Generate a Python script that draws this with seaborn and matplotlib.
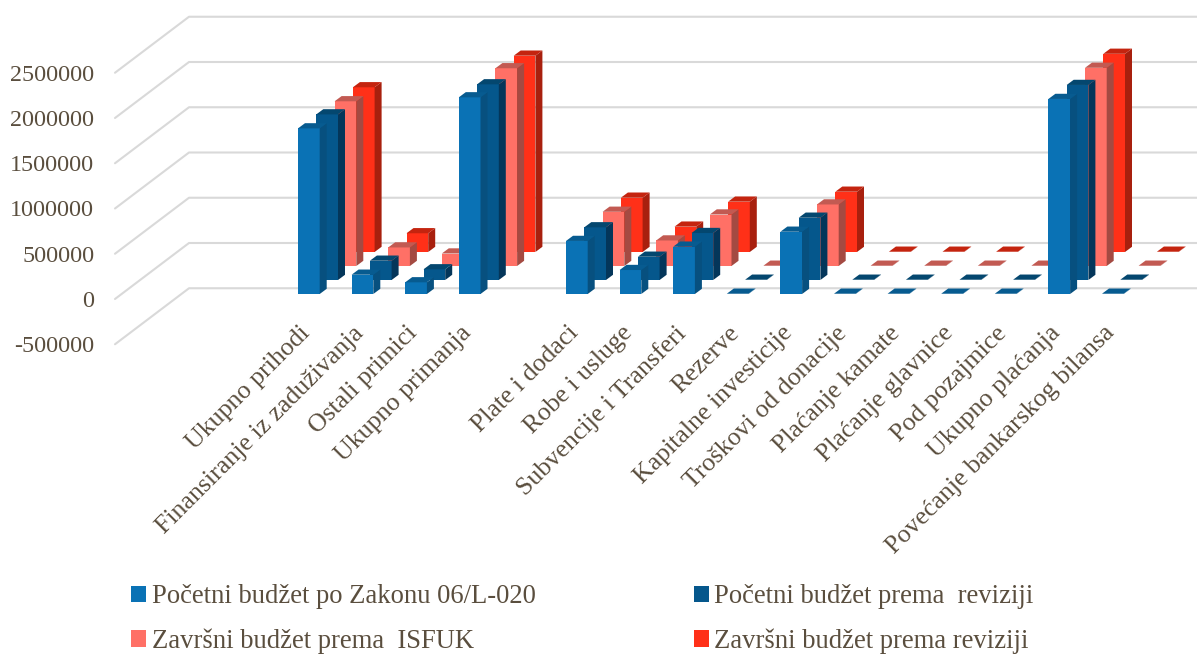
import matplotlib
matplotlib.use("Agg")
import matplotlib.pyplot as plt
import matplotlib.transforms as mtransforms
from matplotlib.patches import Patch, Polygon
from matplotlib.lines import Line2D
import seaborn as sns

categories = [
    "Ukupno prihodi", "Finansiranje iz zaduživanja", "Ostali primici", "Ukupno primanja", " ",
    "Plate i dodaci", "Robe i usluge", "Subvencije i Transferi", "Rezerve", "Kapitalne investicije",
    "Troškovi od donacije", "Plaćanje kamate", "Plaćanje glavnice", "Pod pozajmice",
    "Ukupno plaćanja", "Povećanje bankarskog bilansa",
]
pocetni_zakon = [1830000, 213000, 129000, 2173000, None, 586000, 265000, 523000, 3000, 688000, 3000, 3000, 3000, 3000, 2155000, 3000]
pocetni_revizija = [1830000, 213000, 118000, 2162000, None, 582000, 257000, 519000, 3000, 688000, 3000, 3000, 3000, 3000, 2155000, 3000]
zavrsni_isfuk = [1820000, 205000, 138000, 2185000, None, 599000, 282000, 569000, 3000, 680000, 3000, 3000, 3000, 3000, 2190000, 3000]
zavrsni_revizija = [1820000, 207000, 130000, 2169000, None, 600000, 280000, 556000, 3000, 666000, 3000, 3000, 3000, 3000, 2190000, 3000]

series_names = ["Početni budžet po Zakonu 06/L-020", "Početni budžet prema  reviziji",
                "Završni budžet prema  ISFUK", "Završni budžet prema reviziji"]
series_values = [pocetni_zakon, pocetni_revizija, zavrsni_isfuk, zavrsni_revizija]
front_colors = ["#0A72B5", "#05578C", "#FF7066", "#FF3018"]
side_colors = ["#07507F", "#04365A", "#A44A42", "#A8200E"]
top_colors = ["#075B90", "#04476F", "#C25A52", "#C4240F"]
value_ticks = [-500000, 0, 500000, 1000000, 1500000, 2000000, 2500000]

TEXT = "#5A4E3E"
W, H = 1197, 654
# oblique projection, in pixels
AX_LEFT, AX_BOTTOM_Y, AX_TOP_Y = 115, 344.25, 72.75
SLOT, FIRST_CENTER, BAR_W = 53.6, 308.85, 21.7
STEP_X, STEP_Y, BASE_Y = 18.3, 14.0, 5.0
BAR_DX, BAR_DY = 7.0, 5.2
WALL_DX, WALL_DY = 74.0, 56.0

sns.set_theme(style="white")
plt.rcParams["font.family"] = ["Liberation Serif", "DejaVu Serif"]

fig = plt.figure(figsize=(W / 100, H / 100), dpi=100, facecolor="white")
ax = fig.add_axes([AX_LEFT / W, 1 - AX_BOTTOM_Y / H, (W - AX_LEFT) / W, (AX_BOTTOM_Y - AX_TOP_Y) / H])
ax.set_facecolor("none")

x_limits = ((AX_LEFT - FIRST_CENTER) / SLOT, (W - FIRST_CENTER) / SLOT)
y_limits = (-500000, 2500000)


def freeze_limits():
    ax.set_xlim(*x_limits)
    ax.set_ylim(*y_limits)


freeze_limits()

# Back-to-front so the nearer series cover the farther ones
for idx in range(3, -1, -1):
    start = len(ax.patches)
    sns.barplot(x=categories, y=series_values[idx], order=categories, color=front_colors[idx],
                saturation=1, width=BAR_W / SLOT, linewidth=0, ax=ax, zorder=10 + (3 - idx) * 3, clip_on=False)
    freeze_limits()
    dx, dy = STEP_X * idx, BASE_Y + STEP_Y * idx
    shifted = mtransforms.offset_copy(ax.transData, fig=fig, x=dx, y=dy, units="dots")
    for bar in list(ax.patches[start:]):
        if bar.get_height() != bar.get_height():
            continue
        bar.set_transform(shifted)
        bar.set_clip_on(False)
        (x0, y0), (x1, y1) = shifted.transform([(bar.get_x(), 0),
                                                (bar.get_x() + bar.get_width(), bar.get_height())])
        side = [(x1, y0), (x1 + BAR_DX, y0 + BAR_DY), (x1 + BAR_DX, y1 + BAR_DY), (x1, y1)]
        top = [(x0, y1), (x1, y1), (x1 + BAR_DX, y1 + BAR_DY), (x0 + BAR_DX, y1 + BAR_DY)]
        z = bar.get_zorder()
        ax.add_artist(Polygon(side, closed=True, fc=side_colors[idx], ec="none",
                              transform=mtransforms.IdentityTransform(), zorder=z + 0.5, clip_on=False))
        ax.add_artist(Polygon(top, closed=True, fc=top_colors[idx], ec="none",
                              transform=mtransforms.IdentityTransform(), zorder=z + 0.5, clip_on=False))

# Side wall and back wall gridlines
for value in value_ticks:
    xf, yf = ax.transData.transform((x_limits[0], value))
    ax.add_artist(Line2D([xf, xf + WALL_DX, W], [yf, yf + WALL_DY, yf + WALL_DY], color="#D9D9D9", lw=1.5,
                         transform=mtransforms.IdentityTransform(), zorder=1, clip_on=False))

freeze_limits()
ax.set_xlabel("")
ax.set_ylabel("")
ax.grid(False)
sns.despine(ax=ax, left=True, bottom=True)

ax.set_yticks(value_ticks, [str(v) for v in value_ticks])
ax.tick_params(axis="y", length=0, pad=15, labelsize=17.4, labelcolor=TEXT)
ax.set_xticks(range(len(categories)), categories)
ax.tick_params(axis="x", length=0, pad=-16, labelsize=18.6, labelcolor=TEXT)
label_shift = mtransforms.ScaledTranslation(-7 / 72, 0, fig.dpi_scale_trans)
for label in ax.get_xticklabels():
    label.set_rotation(45)
    label.set_ha("right")
    label.set_va("top")
    label.set_rotation_mode("anchor")
    label.set_transform(label.get_transform() + label_shift)

handles = [Patch(fc=c, ec="none") for c in front_colors]
order = [0, 2, 1, 3]
fig.legend([handles[i] for i in order], [series_names[i] for i in order], ncol=2,
           loc="upper left", bbox_to_anchor=(110 / W, 1 - 563 / H), frameon=False, fontsize=19.2,
           labelcolor=TEXT, handlelength=0.56, handleheight=0.56, handletextpad=0.2,
           columnspacing=5.95, labelspacing=0.72, borderpad=0.3)

fig.savefig("out.png", dpi=100, facecolor="white")
